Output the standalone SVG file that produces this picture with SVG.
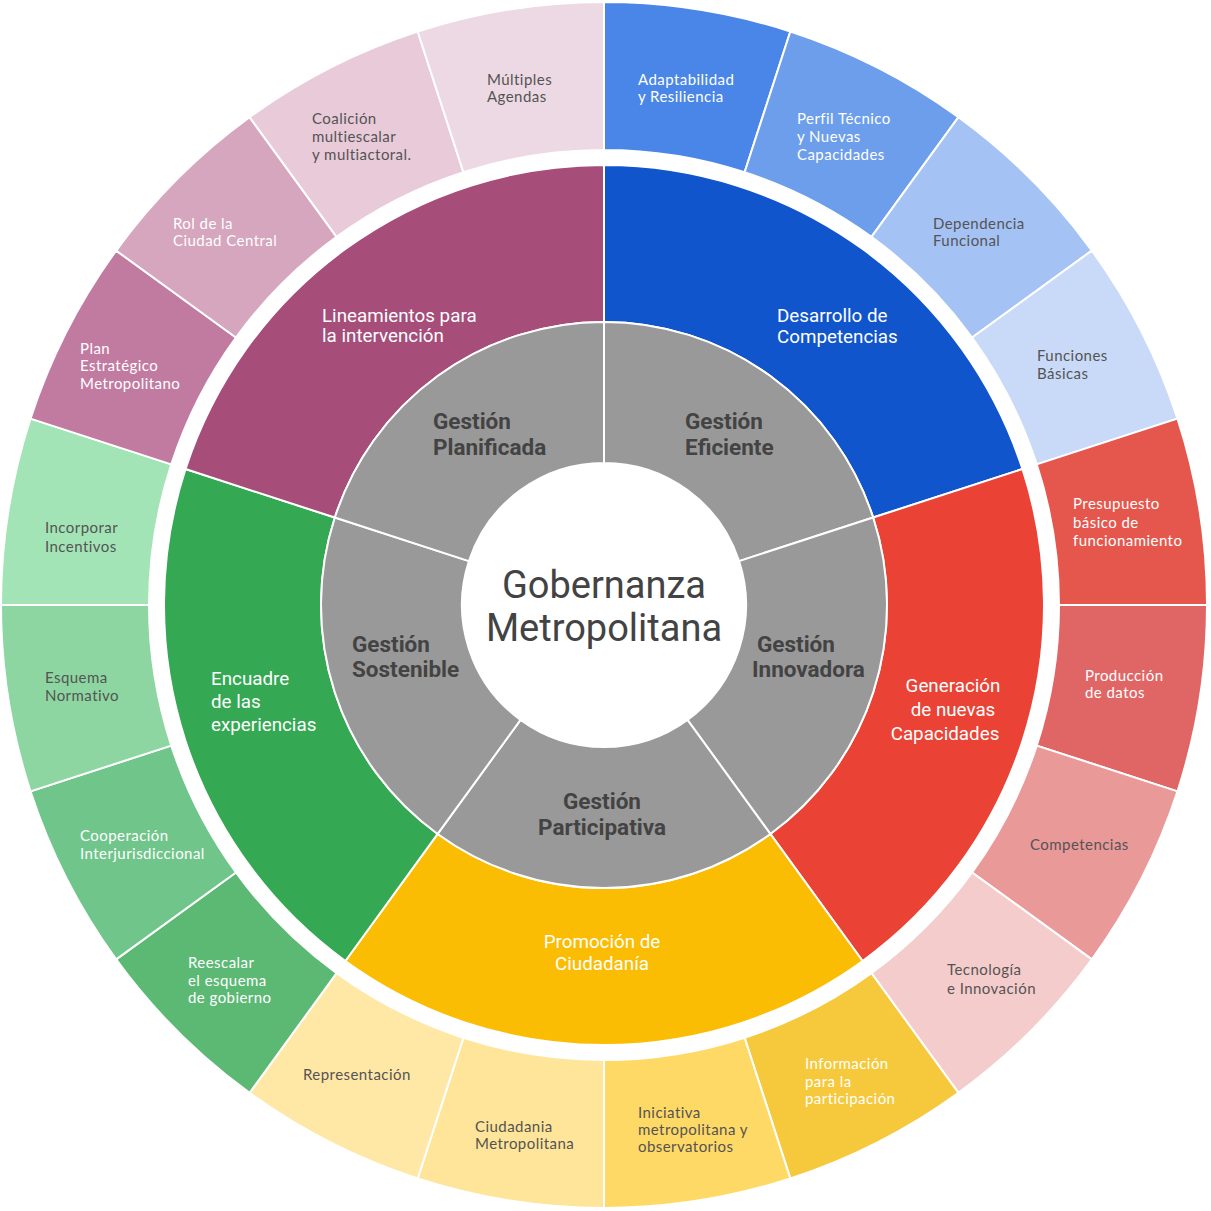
<svg xmlns="http://www.w3.org/2000/svg" width="1211" height="1211" viewBox="0 0 1211 1211">
<style>
.seg{stroke:#ffffff;stroke-width:2;stroke-linejoin:round}
.ot{font-family:Lato,"Liberation Sans",sans-serif;font-size:15px;letter-spacing:0.45px}
.w{fill:#ffffff}
.d{fill:#545454}
.mt{font-family:Roboto,"Liberation Sans",sans-serif;font-size:18.8px;fill:#ffffff}
.gt{font-family:Roboto,"Liberation Sans",sans-serif;font-size:22.5px;font-weight:bold;fill:#434343}
.ct{font-family:Roboto,"Liberation Sans",sans-serif;font-size:38px;fill:#434343;text-anchor:middle}
.c{text-anchor:middle}
</style>
<rect width="1211" height="1211" fill="#ffffff"/>

<!-- Outer ring -->
<g id="outer-ring">
<g id="adaptabilidad"><path class="seg" fill="#4A86E8" d="M604 2A603 603 0 0 1 790.34 31.51L744.6 172.27A455 455 0 0 0 604 150Z"/>
<text class="ot w"><tspan x="638" y="85">Adaptabilidad</tspan><tspan x="638" y="102">y Resiliencia</tspan></text></g>
<g id="perfil"><path class="seg" fill="#6D9EEB" d="M790.34 31.51A603 603 0 0 1 958.43 117.16L871.44 236.9A455 455 0 0 0 744.6 172.27Z"/>
<text class="ot w"><tspan x="797" y="124">Perfil Técnico</tspan><tspan x="797" y="142">y Nuevas</tspan><tspan x="797" y="160">Capacidades</tspan></text></g>
<g id="dependencia"><path class="seg" fill="#A4C2F4" d="M958.43 117.16A603 603 0 0 1 1091.84 250.57L972.1 337.56A455 455 0 0 0 871.44 236.9Z"/>
<text class="ot d"><tspan x="933" y="229">Dependencia</tspan><tspan x="933" y="246">Funcional</tspan></text></g>
<g id="funciones"><path class="seg" fill="#C9DAF8" d="M1091.84 250.57A603 603 0 0 1 1177.49 418.66L1036.73 464.4A455 455 0 0 0 972.1 337.56Z"/>
<text class="ot d"><tspan x="1037" y="361">Funciones</tspan><tspan x="1037" y="379">Básicas</tspan></text></g>
<g id="presupuesto"><path class="seg" fill="#E5574C" d="M1177.49 418.66A603 603 0 0 1 1207 605L1059 605A455 455 0 0 0 1036.73 464.4Z"/>
<text class="ot w"><tspan x="1073" y="509">Presupuesto</tspan><tspan x="1073" y="528">básico de</tspan><tspan x="1073" y="546">funcionamiento</tspan></text></g>
<g id="produccion"><path class="seg" fill="#E06666" d="M1207 605A603 603 0 0 1 1177.49 791.34L1036.73 745.6A455 455 0 0 0 1059 605Z"/>
<text class="ot w"><tspan x="1085" y="681">Producción</tspan><tspan x="1085" y="698">de datos</tspan></text></g>
<g id="competencias"><path class="seg" fill="#EA9999" d="M1177.49 791.34A603 603 0 0 1 1091.84 959.43L972.1 872.44A455 455 0 0 0 1036.73 745.6Z"/>
<text class="ot d" x="1030" y="850">Competencias</text></g>
<g id="tecnologia"><path class="seg" fill="#F4CCCC" d="M1091.84 959.43A603 603 0 0 1 958.43 1092.84L871.44 973.1A455 455 0 0 0 972.1 872.44Z"/>
<text class="ot d"><tspan x="947" y="975">Tecnología</tspan><tspan x="947" y="994">e Innovación</tspan></text></g>
<g id="informacion"><path class="seg" fill="#F6C83B" d="M958.43 1092.84A603 603 0 0 1 790.34 1178.49L744.6 1037.73A455 455 0 0 0 871.44 973.1Z"/>
<text class="ot w"><tspan x="805" y="1069">Información</tspan><tspan x="805" y="1087">para la</tspan><tspan x="805" y="1104">participación</tspan></text></g>
<g id="iniciativa"><path class="seg" fill="#FFD966" d="M790.34 1178.49A603 603 0 0 1 604 1208L604 1060A455 455 0 0 0 744.6 1037.73Z"/>
<text class="ot d"><tspan x="638" y="1118">Iniciativa</tspan><tspan x="638" y="1135">metropolitana y</tspan><tspan x="638" y="1152">observatorios</tspan></text></g>
<g id="ciudadania"><path class="seg" fill="#FFE599" d="M604 1208A603 603 0 0 1 417.66 1178.49L463.4 1037.73A455 455 0 0 0 604 1060Z"/>
<text class="ot d"><tspan x="475" y="1132">Ciudadania</tspan><tspan x="475" y="1149">Metropolitana</tspan></text></g>
<g id="representacion"><path class="seg" fill="#FFE7A6" d="M417.66 1178.49A603 603 0 0 1 249.57 1092.84L336.56 973.1A455 455 0 0 0 463.4 1037.73Z"/>
<text class="ot d" x="303" y="1080">Representación</text></g>
<g id="reescalar"><path class="seg" fill="#5BB974" d="M249.57 1092.84A603 603 0 0 1 116.16 959.43L235.9 872.44A455 455 0 0 0 336.56 973.1Z"/>
<text class="ot w"><tspan x="188" y="968">Reescalar</tspan><tspan x="188" y="986">el esquema</tspan><tspan x="188" y="1003">de gobierno</tspan></text></g>
<g id="cooperacion"><path class="seg" fill="#6FC58A" d="M116.16 959.43A603 603 0 0 1 30.51 791.34L171.27 745.6A455 455 0 0 0 235.9 872.44Z"/>
<text class="ot w"><tspan x="80" y="841">Cooperación</tspan><tspan x="80" y="859">Interjurisdiccional</tspan></text></g>
<g id="esquema"><path class="seg" fill="#8DD6A1" d="M30.51 791.34A603 603 0 0 1 1 605L149 605A455 455 0 0 0 171.27 745.6Z"/>
<text class="ot d"><tspan x="45" y="683">Esquema</tspan><tspan x="45" y="701">Normativo</tspan></text></g>
<g id="incorporar"><path class="seg" fill="#A2E4B6" d="M1 605A603 603 0 0 1 30.51 418.66L171.27 464.4A455 455 0 0 0 149 605Z"/>
<text class="ot d"><tspan x="45" y="533">Incorporar</tspan><tspan x="45" y="552">Incentivos</tspan></text></g>
<g id="plan"><path class="seg" fill="#C27BA0" d="M30.51 418.66A603 603 0 0 1 116.16 250.57L235.9 337.56A455 455 0 0 0 171.27 464.4Z"/>
<text class="ot w"><tspan x="80" y="354">Plan</tspan><tspan x="80" y="371">Estratégico</tspan><tspan x="80" y="389">Metropolitano</tspan></text></g>
<g id="rol"><path class="seg" fill="#D5A6BD" d="M116.16 250.57A603 603 0 0 1 249.57 117.16L336.56 236.9A455 455 0 0 0 235.9 337.56Z"/>
<text class="ot w"><tspan x="173" y="229">Rol de la</tspan><tspan x="173" y="246">Ciudad Central</tspan></text></g>
<g id="coalicion"><path class="seg" fill="#E8CAD9" d="M249.57 117.16A603 603 0 0 1 417.66 31.51L463.4 172.27A455 455 0 0 0 336.56 236.9Z"/>
<text class="ot d"><tspan x="312" y="124">Coalición</tspan><tspan x="312" y="142">multiescalar</tspan><tspan x="312" y="160">y multiactoral.</tspan></text></g>
<g id="multiples"><path class="seg" fill="#EDD9E3" d="M417.66 31.51A603 603 0 0 1 604 2L604 150A455 455 0 0 0 463.4 172.27Z"/>
<text class="ot d"><tspan x="487" y="85">Múltiples</tspan><tspan x="487" y="102">Agendas</tspan></text></g>
</g>

<!-- Middle ring -->
<g id="middle-ring">
<g id="desarrollo"><path class="seg" fill="#1155CC" d="M604 165A440 440 0 0 1 1022.47 469.03L873.15 517.55A283 283 0 0 0 604 322Z"/>
<text class="mt"><tspan x="777" y="322">Desarrollo de</tspan><tspan x="777" y="343">Competencias</tspan></text></g>
<g id="generacion"><path class="seg" fill="#EA4335" d="M1022.47 469.03A440 440 0 0 1 862.63 960.97L770.34 833.95A283 283 0 0 0 873.15 517.55Z"/>
<text class="mt c"><tspan x="953" y="692">Generación</tspan><tspan x="953" y="716">de nuevas</tspan><tspan x="945" y="740">Capacidades</tspan></text></g>
<g id="promocion"><path class="seg" fill="#FBBC04" d="M862.63 960.97A440 440 0 0 1 345.37 960.97L437.66 833.95A283 283 0 0 0 770.34 833.95Z"/>
<text class="mt c"><tspan x="602" y="948">Promoción de</tspan><tspan x="602" y="970">Ciudadanía</tspan></text></g>
<g id="encuadre"><path class="seg" fill="#34A853" d="M345.37 960.97A440 440 0 0 1 185.53 469.03L334.85 517.55A283 283 0 0 0 437.66 833.95Z"/>
<text class="mt"><tspan x="211" y="685">Encuadre</tspan><tspan x="211" y="708">de las</tspan><tspan x="211" y="731">experiencias</tspan></text></g>
<g id="lineamientos"><path class="seg" fill="#A64D79" d="M185.53 469.03A440 440 0 0 1 604 165L604 322A283 283 0 0 0 334.85 517.55Z"/>
<text class="mt"><tspan x="322" y="322">Lineamientos para</tspan><tspan x="322" y="342">la intervención</tspan></text></g>
</g>

<!-- Inner ring -->
<g id="inner-ring">
<g id="eficiente"><path class="seg" fill="#999999" d="M604 322A283 283 0 0 1 873.15 517.55L739.05 561.12A142 142 0 0 0 604 463Z"/>
<text class="gt"><tspan x="685" y="429">Gestión</tspan><tspan x="685" y="455">Eficiente</tspan></text></g>
<g id="innovadora"><path class="seg" fill="#999999" d="M873.15 517.55A283 283 0 0 1 770.34 833.95L687.47 719.88A142 142 0 0 0 739.05 561.12Z"/>
<text class="gt"><tspan x="757" y="652">Gestión</tspan><tspan x="752" y="677">Innovadora</tspan></text></g>
<g id="participativa"><path class="seg" fill="#999999" d="M770.34 833.95A283 283 0 0 1 437.66 833.95L520.53 719.88A142 142 0 0 0 687.47 719.88Z"/>
<text class="gt c"><tspan x="602" y="809">Gestión</tspan><tspan x="602" y="835">Participativa</tspan></text></g>
<g id="sostenible"><path class="seg" fill="#999999" d="M437.66 833.95A283 283 0 0 1 334.85 517.55L468.95 561.12A142 142 0 0 0 520.53 719.88Z"/>
<text class="gt"><tspan x="352" y="652">Gestión</tspan><tspan x="352" y="677">Sostenible</tspan></text></g>
<g id="planificada"><path class="seg" fill="#999999" d="M334.85 517.55A283 283 0 0 1 604 322L604 463A142 142 0 0 0 468.95 561.12Z"/>
<text class="gt"><tspan x="433" y="429">Gestión</tspan><tspan x="433" y="455">Planificada</tspan></text></g>
</g>

<!-- Center -->
<g id="center">
<circle cx="604" cy="605" r="141" fill="#ffffff"/>
<text class="ct"><tspan x="604" y="598">Gobernanza</tspan><tspan x="604" y="641">Metropolitana</tspan></text>
</g>
<g id="connectors"/>
</svg>
